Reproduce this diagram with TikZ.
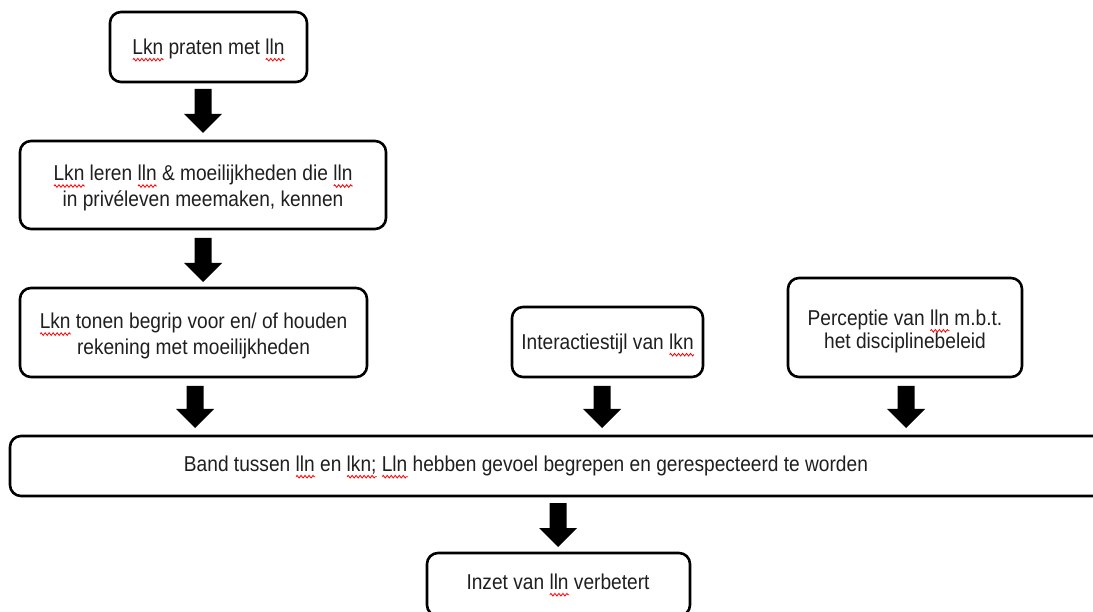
\documentclass[tikz,border=0pt]{standalone}
\usepackage{fontspec}
\setmainfont{Liberation Sans}[FakeStretch=0.89]
\usetikzlibrary{calc,decorations.pathmorphing}
\newlength\sqwl
\newcommand\sqw[1]{\settowidth\sqwl{#1}\rlap{\tikz[baseline=0pt,x=1pt,y=1pt]{\draw[red,line width=0.8pt,decorate,decoration={zigzag,amplitude=1.3pt,segment length=4pt}] (0,-5.5) -- (\sqwl,-5.5);}}#1}
\tikzset{
  box/.style={draw=black, line width=2.6pt, rounded corners=11pt, fill=white, inner sep=0pt},
  txt/.style={align=center, inner sep=0pt, text=black!88, font=\fontsize{21.5}{26}\selectfont},
  blockarrow/.style={fill=black},
}
\newcommand\barrow[2]{\fill[blockarrow] ($(#1)+(-8.5,0)$) -- ($(#1)+(8.5,0)$) -- ($(#2)+(8.5,-19)$) -- ($(#2)+(19,-19)$) -- (#2) -- ($(#2)+(-19,-19)$) -- ($(#2)+(-8.5,-19)$) -- cycle;}
\begin{document}
\begin{tikzpicture}[x=1pt,y=-1pt]
\useasboundingbox (0,0) rectangle (1093,612);
\clip (0,0) rectangle (1093,612);
% boxes
\node[box, minimum width=197pt, minimum height=70pt] (b1) at (208.5,47) {};
\node[box, minimum width=366pt, minimum height=88pt] (b2) at (203,185) {};
\node[box, minimum width=347pt, minimum height=89pt] (b3) at (193.5,332.5) {};
\node[box, minimum width=191pt, minimum height=70pt] (b4) at (607.5,342) {};
\node[box, minimum width=234pt, minimum height=99pt] (b5) at (905,327.5) {};
\node[box, minimum width=1100pt, minimum height=60pt] (band) at (560,466) {};
\node[box, minimum width=263pt, minimum height=63pt] (b6) at (558.5,584.5) {};
% texts
\node[txt] (t1) at (208.5,50) {\sqw{Lkn} praten met \sqw{lln}};
\node[txt] (t2) at (203,188) {\sqw{Lkn} leren \sqw{lln} \& moeilijkheden die \sqw{lln}\\in privéleven meemaken, kennen};
\node[txt] (t3) at (193.5,336) {\sqw{Lkn} tonen begrip voor en/ of houden\\rekening met moeilijkheden};
\node[txt] (t4) at (607.5,345) {Interactiestijl van \sqw{lkn}};
\node[txt, font=\fontsize{21.5}{23.5}\selectfont] (t5) at (905,331.5) {Perceptie van \sqw{lln} m.b.t.\\het disciplinebeleid};
\node[txt] (tband) at (526,467) {Band tussen \sqw{lln} en \sqw{lkn;} \sqw{Lln} hebben gevoel begrepen en gerespecteerd te worden};
\node[txt] (t6) at (558,585) {Inzet van \sqw{lln} verbetert};
% arrow end points
\coordinate (a1s) at (203,89);  \coordinate (a1e) at (203,133);
\coordinate (a2s) at (203,238); \coordinate (a2e) at (203,282);
\coordinate (a3s) at (195,386); \coordinate (a3e) at (195,428);
\coordinate (a4s) at (602,386); \coordinate (a4e) at (602,428);
\coordinate (a5s) at (906,386); \coordinate (a5e) at (906,428);
\coordinate (a6s) at (558,503); \coordinate (a6e) at (558,547);
\barrow{a1s}{a1e}
\barrow{a2s}{a2e}
\barrow{a3s}{a3e}
\barrow{a4s}{a4e}
\barrow{a5s}{a5e}
\barrow{a6s}{a6e}
\end{tikzpicture}
\end{document}
